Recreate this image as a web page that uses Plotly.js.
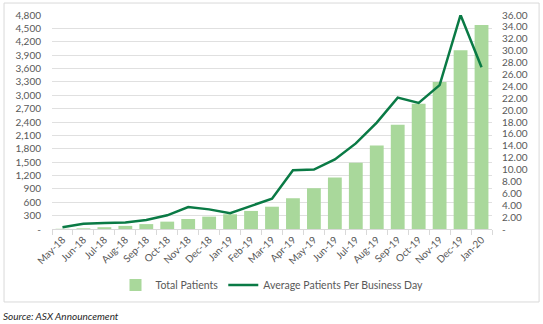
<!DOCTYPE html>
<html>
<head>
<meta charset="utf-8">
<script src="https://cdn.plot.ly/plotly-3.0.1.min.js"></script>
<style>html,body{margin:0;padding:0;background:#fff;}#chart{width:543px;height:324px;}</style>
</head>
<body>
<div id="chart"></div>
<script>
const months = ["May-18","Jun-18","Jul-18","Aug-18","Sep-18","Oct-18","Nov-18","Dec-18","Jan-19","Feb-19","Mar-19","Apr-19","May-19","Jun-19","Jul-19","Aug-19","Sep-19","Oct-19","Nov-19","Dec-19","Jan-20"];
const totalPatients = [5, 15, 40, 70, 110, 165, 225, 277, 330, 405, 500, 690, 915, 1155, 1485, 1875, 2340, 2812, 3300, 4012, 4575];
const avgPerDay = [0.3, 0.9, 1.0, 1.1, 1.5, 2.3, 3.7, 3.3, 2.65, 3.9, 5.1, 9.9, 10.0, 11.7, 14.4, 17.9, 22.1, 21.2, 24.2, 36.0, 27.2];
const leftTicks = [0,300,600,900,1200,1500,1800,2100,2400,2700,3000,3300,3600,3900,4200,4500,4800];
const rightTicks = [0,2,4,6,8,10,12,14,16,18,20,22,24,26,28,30,32,34,36];

const leftText = leftTicks.map(v => v === 0 ? "-" : v.toLocaleString("en-US"));
const rightText = rightTicks.map(v => v === 0 ? "-" : v.toFixed(2));

const font = "Lato, 'Open Sans', sans-serif";
const grey = "#595959";

const traces = [
  {
    type: "bar", name: "Total Patients", x: months, y: totalPatients,
    marker: {color: "#a9d89b"}, yaxis: "y"
  },
  {
    type: "scatter", mode: "lines", name: "Average Patients Per Business Day",
    x: months, y: avgPerDay, yaxis: "y2",
    line: {color: "#0a7a45", width: 2.5}
  }
];

const layout = {
  width: 543, height: 324,
  margin: {l: 52, r: 51, t: 15, b: 95},
  paper_bgcolor: "#fff", plot_bgcolor: "#fff",
  font: {family: font, color: grey, size: 10},
  bargap: 0.34,
  showlegend: true,
  legend: {orientation: "h", x: 0.5, xanchor: "center", y: -0.262, yanchor: "middle",
           font: {size: 10.5, color: grey}, itemwidth: 30, traceorder: "normal"},
  xaxis: {
    type: "category", tickangle: -45, tickson: "boundaries", ticks: "outside",
    ticklen: 5, tickcolor: "#d9d9d9", showline: true, linecolor: "#d9d9d9",
    showgrid: false, tickfont: {size: 10, color: grey}, fixedrange: true
  },
  yaxis: {
    range: [0, 4800], tickvals: leftTicks, ticktext: leftText,
    showgrid: true, gridcolor: "#e0e0e0", gridwidth: 1, zeroline: false,
    ticklabelstandoff: 10, tickfont: {size: 10, color: grey}, fixedrange: true
  },
  yaxis2: {
    range: [0, 36], tickvals: rightTicks, ticktext: rightText,
    overlaying: "y", side: "right", showgrid: false, zeroline: false,
    ticklabelstandoff: 9, tickfont: {size: 10, color: grey}, fixedrange: true
  },
  shapes: [{
    type: "rect", xref: "paper", yref: "paper",
    x0: -0.109, x1: 1.107, y0: -0.341, y1: 1.056,
    line: {color: "#d9d9d9", width: 1}, fillcolor: "rgba(0,0,0,0)"
  }],
  annotations: [{
    xref: "paper", yref: "paper", x: -0.116, y: -0.407, xanchor: "left", yanchor: "middle",
    text: "<i>Source: ASX Announcement</i>", showarrow: false,
    font: {size: 10, color: "#262626", family: font}
  }]
};

Plotly.newPlot("chart", traces, layout, {displayModeBar: false, staticPlot: true});
</script>
</body>
</html>
